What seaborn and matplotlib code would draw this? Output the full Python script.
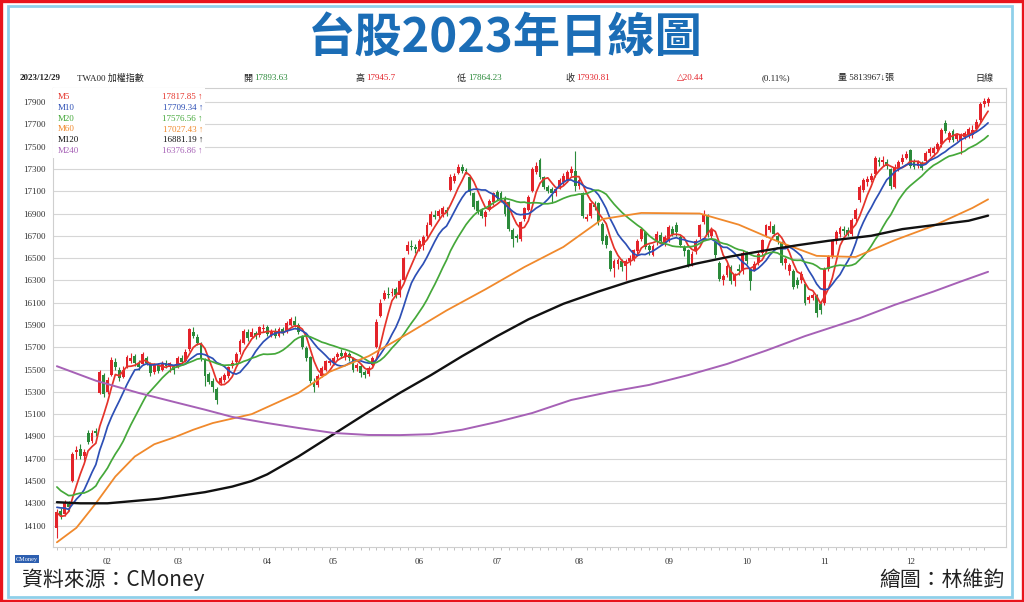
import numpy as np
import pandas as pd
import matplotlib
matplotlib.use("Agg")
import matplotlib.pyplot as plt
from matplotlib.patches import Rectangle
import seaborn as sns

TITLE = "台股2023年日線圖"
month_labels = ["02", "03", "04", "05", "06", "07", "08", "09", "10", "11", "12"]
month_days = [13, 18, 23, 17, 22, 20, 21, 23, 20, 20, 22, 21]
y_ticks = list(range(14100, 18000, 200))

# last closes of 2022, needed to start the short moving averages
closes_2022_tail = [14868, 14734, 14706, 14705, 14535, 14558, 14734, 14556, 14527, 14366,
                    14247, 14320, 14385, 14278, 14326, 14364, 14274, 14085, 14137]

# daily candles 2023, one line per month
opens = [
    14080, 14230, 14200, 14290, 14500, 14760, 14790, 14720, 14930, 14860, 14950, 15290, 15450,
    15300, 15450, 15570, 15500, 15430, 15520, 15580, 15620, 15560, 15550, 15600, 15550, 15480, 15540, 15500, 15560, 15520, 15520,
    15520, 15600, 15580, 15680, 15840, 15790, 15740, 15590, 15460, 15400, 15330, 15380, 15410, 15440, 15530, 15570, 15660, 15740, 15840, 15790, 15830, 15810, 15860,
    15880, 15810, 15850, 15800, 15860, 15840, 15900, 15940, 15900, 15800, 15690, 15610, 15390, 15360, 15440, 15500, 15560,
    15560, 15610, 15650, 15610, 15640, 15600, 15510, 15530, 15480, 15460, 15540, 15700, 15980, 16130, 16180, 16190, 16220, 16170, 16300, 16560, 16610, 16600,
    16580, 16620, 16700, 16800, 16890, 16880, 16900, 16930, 17110, 17190, 17260, 17320, 17290, 17230, 17080, 17010, 16930, 16870, 16930, 17000,
    17090, 17080, 17040, 17000, 16750, 16700, 16670, 16850, 16930, 17100, 17270, 17380, 17230, 17140, 17120, 17080, 17140, 17180, 17200, 17260, 17280,
    17150, 17080, 16850, 16880, 16980, 16990, 16810, 16700, 16560, 16410, 16450, 16470, 16430, 16470, 16490, 16560, 16670, 16730, 16610, 16530, 16640, 16710, 16630,
    16660, 16760, 16800, 16690, 16600, 16570, 16450, 16560, 16690, 16820, 16890, 16700, 16640, 16460, 16300, 16350, 16420, 16290, 16400, 16380,
    16550, 16400, 16390, 16460, 16550, 16700, 16750, 16790, 16700, 16640, 16460, 16380, 16380, 16300, 16300, 16270, 16120, 16140, 16160, 16090,
    16100, 16400, 16520, 16650, 16720, 16760, 16750, 16720, 16850, 17020, 17110, 17180, 17200, 17250, 17380, 17360, 17360, 17300, 17140, 17300, 17360, 17400,
    17470, 17360, 17330, 17350, 17370, 17440, 17440, 17480, 17520, 17710, 17560, 17640, 17570, 17560, 17590, 17600, 17600, 17660, 17740, 17880, 17893.63,
]
highs = [
    14250, 14260, 14330, 14320, 14760, 14810, 14830, 14790, 14960, 14960, 14980, 15500, 15470,
    15430, 15610, 15600, 15520, 15530, 15630, 15650, 15640, 15590, 15660, 15620, 15570, 15560, 15560, 15580, 15590, 15570, 15540,
    15620, 15630, 15680, 15870, 15880, 15820, 15750, 15600, 15480, 15420, 15340, 15440, 15470, 15530, 15590, 15660, 15770, 15860, 15860, 15870, 15850, 15890, 15910,
    15900, 15860, 15870, 15880, 15880, 15940, 15970, 15980, 15920, 15810, 15710, 15620, 15420, 15460, 15530, 15590, 15600,
    15620, 15660, 15680, 15670, 15660, 15610, 15560, 15550, 15500, 15530, 15620, 15950, 16130, 16210, 16240, 16230, 16240, 16310, 16510, 16650, 16660, 16630,
    16670, 16710, 16820, 16920, 16930, 16940, 16970, 16960, 17250, 17260, 17340, 17340, 17310, 17240, 17090, 17020, 16950, 16930, 17030, 17090,
    17110, 17100, 17060, 17010, 16770, 16720, 16830, 16960, 17070, 17320, 17360, 17400, 17240, 17160, 17140, 17140, 17220, 17260, 17290, 17330, 17463,
    17230, 17090, 16900, 17000, 17010, 17000, 16820, 16720, 16570, 16490, 16500, 16490, 16490, 16530, 16580, 16670, 16780, 16740, 16630, 16630, 16740, 16730, 16710,
    16800, 16790, 16820, 16710, 16620, 16580, 16560, 16670, 16810, 16930, 16900, 16780, 16650, 16470, 16360, 16450, 16440, 16370, 16450, 16570,
    16560, 16410, 16470, 16560, 16670, 16810, 16830, 16810, 16720, 16650, 16510, 16460, 16400, 16330, 16380, 16280, 16170, 16190, 16180, 16110,
    16420, 16530, 16660, 16750, 16790, 16790, 16780, 16860, 16950, 17160, 17220, 17240, 17260, 17420, 17410, 17420, 17390, 17310, 17340, 17380, 17430, 17460,
    17480, 17390, 17380, 17370, 17460, 17500, 17510, 17540, 17670, 17740, 17640, 17660, 17620, 17620, 17640, 17680, 17690, 17750, 17900, 17940, 17945.7,
]
lows = [
    13990, 14160, 14190, 14230, 14490, 14700, 14700, 14690, 14830, 14840, 14900, 15280, 15250,
    15280, 15440, 15500, 15400, 15420, 15510, 15560, 15530, 15500, 15540, 15540, 15440, 15460, 15470, 15490, 15510, 15480, 15460,
    15510, 15550, 15570, 15670, 15780, 15720, 15580, 15350, 15370, 15300, 15190, 15360, 15390, 15420, 15510, 15550, 15640, 15730, 15760, 15780, 15770, 15790, 15840,
    15800, 15790, 15780, 15790, 15810, 15830, 15890, 15880, 15820, 15680, 15580, 15380, 15300, 15340, 15430, 15490, 15540,
    15540, 15590, 15600, 15590, 15580, 15480, 15490, 15430, 15420, 15440, 15530, 15690, 15970, 16120, 16140, 16160, 16140, 16150, 16290, 16540, 16570, 16550,
    16560, 16570, 16680, 16790, 16850, 16860, 16870, 16880, 17100, 17170, 17250, 17260, 17250, 17070, 16940, 16900, 16860, 16790, 16920, 16980,
    17020, 17000, 16880, 16740, 16600, 16640, 16650, 16830, 16920, 17090, 17250, 17210, 17120, 17080, 16990, 17060, 17120, 17160, 17180, 17240, 17100,
    17120, 16860, 16830, 16860, 16930, 16800, 16630, 16590, 16380, 16330, 16400, 16380, 16300, 16440, 16470, 16540, 16650, 16580, 16530, 16520, 16620, 16630, 16610,
    16640, 16700, 16700, 16600, 16520, 16420, 16430, 16540, 16670, 16810, 16690, 16680, 16500, 16290, 16260, 16330, 16270, 16250, 16350, 16360,
    16450, 16210, 16380, 16440, 16530, 16690, 16730, 16700, 16630, 16440, 16400, 16350, 16220, 16230, 16280, 16080, 16100, 16120, 15970, 16000,
    16080, 16380, 16500, 16630, 16690, 16710, 16700, 16700, 16830, 17000, 17090, 17150, 17180, 17230, 17330, 17330, 17300, 17120, 17130, 17280, 17340, 17390,
    17310, 17300, 17310, 17290, 17350, 17420, 17420, 17460, 17500, 17620, 17540, 17540, 17550, 17430, 17570, 17580, 17580, 17640, 17720, 17860, 17864.23,
]
closes = [
    14224, 14195, 14300, 14270, 14740, 14780, 14720, 14760, 14850, 14932, 14932, 15480, 15280,
    15410, 15590, 15520, 15420, 15500, 15610, 15600, 15560, 15520, 15640, 15560, 15470, 15550, 15490, 15560, 15530, 15560, 15500,
    15600, 15570, 15660, 15860, 15800, 15740, 15600, 15440, 15390, 15340, 15230, 15420, 15450, 15520, 15560, 15640, 15760, 15850, 15780, 15840, 15800, 15880, 15868,
    15820, 15840, 15800, 15860, 15830, 15920, 15950, 15900, 15840, 15700, 15600, 15400, 15340, 15440, 15510, 15580, 15580,
    15600, 15640, 15620, 15650, 15600, 15500, 15540, 15470, 15450, 15510, 15600, 15930, 16100, 16190, 16170, 16200, 16170, 16290, 16500, 16620, 16600, 16580,
    16650, 16690, 16800, 16900, 16870, 16920, 16950, 16910, 17230, 17240, 17320, 17280, 17280, 17090, 16960, 16920, 16880, 16910, 17010, 17080,
    17040, 17020, 16900, 16760, 16670, 16680, 16820, 16950, 17050, 17300, 17330, 17230, 17140, 17100, 17080, 17120, 17200, 17240, 17270, 17300, 17145,
    17200, 16880, 16870, 16990, 16960, 16820, 16650, 16620, 16400, 16470, 16480, 16420, 16470, 16500, 16570, 16650, 16760, 16600, 16570, 16610, 16720, 16650, 16690,
    16780, 16720, 16730, 16620, 16560, 16440, 16540, 16650, 16800, 16900, 16710, 16750, 16530, 16310, 16340, 16430, 16290, 16350, 16380, 16550,
    16470, 16290, 16450, 16540, 16660, 16800, 16790, 16720, 16650, 16460, 16490, 16440, 16240, 16260, 16360, 16100, 16150, 16170, 16010, 16030,
    16400, 16510, 16650, 16730, 16770, 16740, 16720, 16840, 16930, 17140, 17200, 17210, 17240, 17400, 17360, 17380, 17330, 17150, 17320, 17360, 17400, 17430,
    17330, 17320, 17360, 17310, 17440, 17480, 17490, 17520, 17650, 17640, 17620, 17560, 17600, 17600, 17620, 17660, 17650, 17718, 17880, 17910, 17930.81,
]

# long averages (trading-day index, value)
m60_days = [0, 5, 10, 15, 20, 25, 30, 35, 40, 50, 62, 70, 80, 90, 100, 110, 120, 130, 140, 150, 165, 175, 185, 195, 205, 215, 225, 235, 239]
m60_vals = [13950, 14080, 14300, 14540, 14720, 14830, 14890, 14960, 15020, 15100, 15290, 15480, 15620, 15820, 16030, 16220, 16420, 16600,
            16850, 16905, 16900, 16800, 16650, 16520, 16510, 16660, 16790, 16950, 17027]
m120_days = [0, 6, 13, 26, 38, 45, 50, 54, 62, 71, 80, 88, 96, 104, 113, 121, 130, 139, 147, 155, 164, 173, 182, 190, 198, 209, 217, 226, 234, 239]
m120_vals = [14310, 14300, 14300, 14340, 14400, 14450, 14500, 14560, 14720, 14920, 15120, 15290, 15450, 15620, 15800, 15950, 16090, 16200,
             16290, 16370, 16450, 16515, 16570, 16615, 16655, 16700, 16760, 16800, 16835, 16881]
m240_days = [0, 10, 21, 30, 38, 45, 54, 62, 71, 80, 88, 96, 104, 113, 122, 132, 142, 152, 162, 172, 182, 192, 199, 206, 215, 225, 232, 239]
m240_vals = [15530, 15400, 15290, 15210, 15140, 15075, 15020, 14976, 14931, 14913, 14912, 14920, 14960, 15030, 15110, 15227, 15300, 15362,
             15450, 15550, 15670, 15800, 15880, 15960, 16080, 16200, 16290, 16377]

ma_names = ["M5", "M10", "M20", "M60", "M120", "M240"]
ma_last = ["17817.85", "17709.34", "17576.56", "17027.43", "16881.19", "16376.86"]

header_date = "2023/12/29"
header_name = "TWA00 加權指數"
header_items = [("開", "17893.63"), ("高", "17945.7"), ("低", "17864.23"), ("收", "17930.81")]
header_change = "△20.44"
header_pct = "(0.11%)"
header_vol = "量 5813967↓張"
header_period = "日線"

ma_colors = ["#e5332a", "#2d4fb5", "#45a83a", "#f0892c", "#111111", "#a661b6"]
UP, DOWN = "#e3232a", "#2b8a3a"

sns.set_theme(style="white")
plt.rcParams["font.family"] = ["Liberation Serif", "Noto Sans CJK TC", "DejaVu Sans"]
CJK = ["Noto Sans CJK TC", "DejaVu Sans"]

W, H = 1024, 602
fx = lambda px: px / W
fy = lambda py: 1 - py / H

fig = plt.figure(figsize=(W / 100, H / 100), dpi=100)
fig.patch.set_facecolor("white")
ax = fig.add_axes([fx(53), fy(547), (1006 - 53) / W, (547 - 88) / H])

n = len(closes)
x = np.arange(n)
o = np.array(opens)
c = np.array(closes)
hi = np.array(highs)
lo = np.array(lows)
up = c >= o
cols = np.where(up, UP, DOWN)

# candles
ax.vlines(x, lo, hi, colors=cols, lw=0.8, zorder=2)
body = np.maximum(np.abs(c - o), 10)
ax.bar(x, body, bottom=np.minimum(o, c), width=0.74, color=cols, linewidth=0, zorder=2)

# short averages from the closes
full = pd.Series(closes_2022_tail + closes)
k = len(closes_2022_tail)
ma_df = pd.DataFrame({"day": x})
for name, w in [("M5", 5), ("M10", 10), ("M20", 20)]:
    ma_df[name] = full.rolling(w, min_periods=1).mean().to_numpy()[k:]

for name, col in zip(["M5", "M10", "M20"], ma_colors[:3]):
    sns.lineplot(data=ma_df, x="day", y=name, ax=ax, color=col, lw=1.25, zorder=3)
sns.lineplot(x=m60_days, y=m60_vals, ax=ax, color=ma_colors[3], lw=1.3, zorder=3)
sns.lineplot(x=m120_days, y=m120_vals, ax=ax, color=ma_colors[4], lw=1.7, zorder=3)
sns.lineplot(x=m240_days, y=m240_vals, ax=ax, color=ma_colors[5], lw=1.4, zorder=3)

ax.set_xlim(-1.0, 243.6)
ax.set_ylim(13908, 18026)
ax.set_xlabel("")
ax.set_ylabel("")
ax.set_yticks(y_ticks)
ax.set_yticklabels([str(v) for v in y_ticks], fontsize=6.5, color="#333333")
month_pos = np.cumsum(month_days)[:-1]
ax.set_xticks(month_pos)
ax.set_xticklabels(month_labels, fontsize=6.5, color="#333333")
ax.set_xticks(x[::2], minor=True)
ax.tick_params(axis="y", length=0, pad=5)
ax.tick_params(axis="x", which="major", length=0, pad=8)
ax.tick_params(axis="x", which="minor", bottom=True, length=2, width=0.5, color="#aaaaaa", direction="out")
ax.grid(axis="y", color="#d6d6d6", lw=0.8, zorder=0)
ax.set_axisbelow(True)
for s in ax.spines.values():
    s.set_color("#cfcfcf")
    s.set_linewidth(0.8)

# legend box of averages
ax.add_patch(Rectangle((0, 1 - 70 / 459), (205 - 53) / 953, 70 / 459, transform=ax.transAxes,
                       facecolor="white", edgecolor="none", zorder=5))
for i, (nm, val, col) in enumerate(zip(ma_names, ma_last, ma_colors)):
    yy = fy(97 + i * 10.8)
    fig.text(fx(58), yy, nm, fontsize=6.5, color=col, va="center", zorder=6)
    fig.text(fx(203), yy, val + " ↑", fontsize=6.5, color=col, va="center", ha="right", zorder=6,
             family=["Liberation Serif", "DejaVu Sans"])

# header row
hy = fy(78)
fig.text(fx(20), hy, header_date, fontsize=6.5, fontweight="bold", color="#222222", va="center")
fig.text(fx(77), hy, header_name, fontsize=6.5, color="#222222", va="center", family=["Liberation Serif"] + CJK)
for (lab, val), px, vcol in zip(header_items, [243, 355, 457, 565], ["#2b8a3a", "#e3232a", "#2b8a3a", "#e3232a"]):
    fig.text(fx(px), hy, lab, fontsize=6.5, color="#222222", va="center", family=CJK)
    fig.text(fx(px + 11), hy, val, fontsize=6.5, color=vcol, va="center")
fig.text(fx(677), hy, header_change, fontsize=6.5, color="#e3232a", va="center", family=["Liberation Serif", "DejaVu Sans"])
fig.text(fx(762), hy, header_pct, fontsize=6.5, color="#222222", va="center")
fig.text(fx(838), hy, header_vol, fontsize=6.5, color="#222222", va="center", family=["Liberation Serif"] + CJK)
fig.text(fx(975), hy, header_period, fontsize=6.5, color="#222222", va="center", family=CJK)

# title and footer
fig.text(fx(505), fy(38), TITLE, fontsize=34, fontweight="bold", color="#1b6db6",
         ha="center", va="center", family=CJK)
fig.text(fx(22), fy(580), "資料來源：CMoney", fontsize=15, color="#222222", va="center", family=CJK)
fig.text(fx(1005), fy(580), "繪圖：林維鈞", fontsize=15, color="#222222", va="center", ha="right", family=CJK)
fig.text(fx(16), fy(559), "CMoney", fontsize=4.5, color="white", va="center",
         bbox=dict(facecolor="#2d5fb0", edgecolor="none", pad=0.8))

# frames
fig.add_artist(Rectangle((fx(8), fy(597)), (1012 - 8) / W, (597 - 6) / H, transform=fig.transFigure,
                         fill=False, edgecolor="#8fd0ea", lw=2.0))
fig.add_artist(Rectangle((0.0012, 0.002), 0.9976, 0.996, transform=fig.transFigure,
                         fill=False, edgecolor="#e8141c", lw=2.4))

fig.savefig("out.png", dpi=100, facecolor="white")
